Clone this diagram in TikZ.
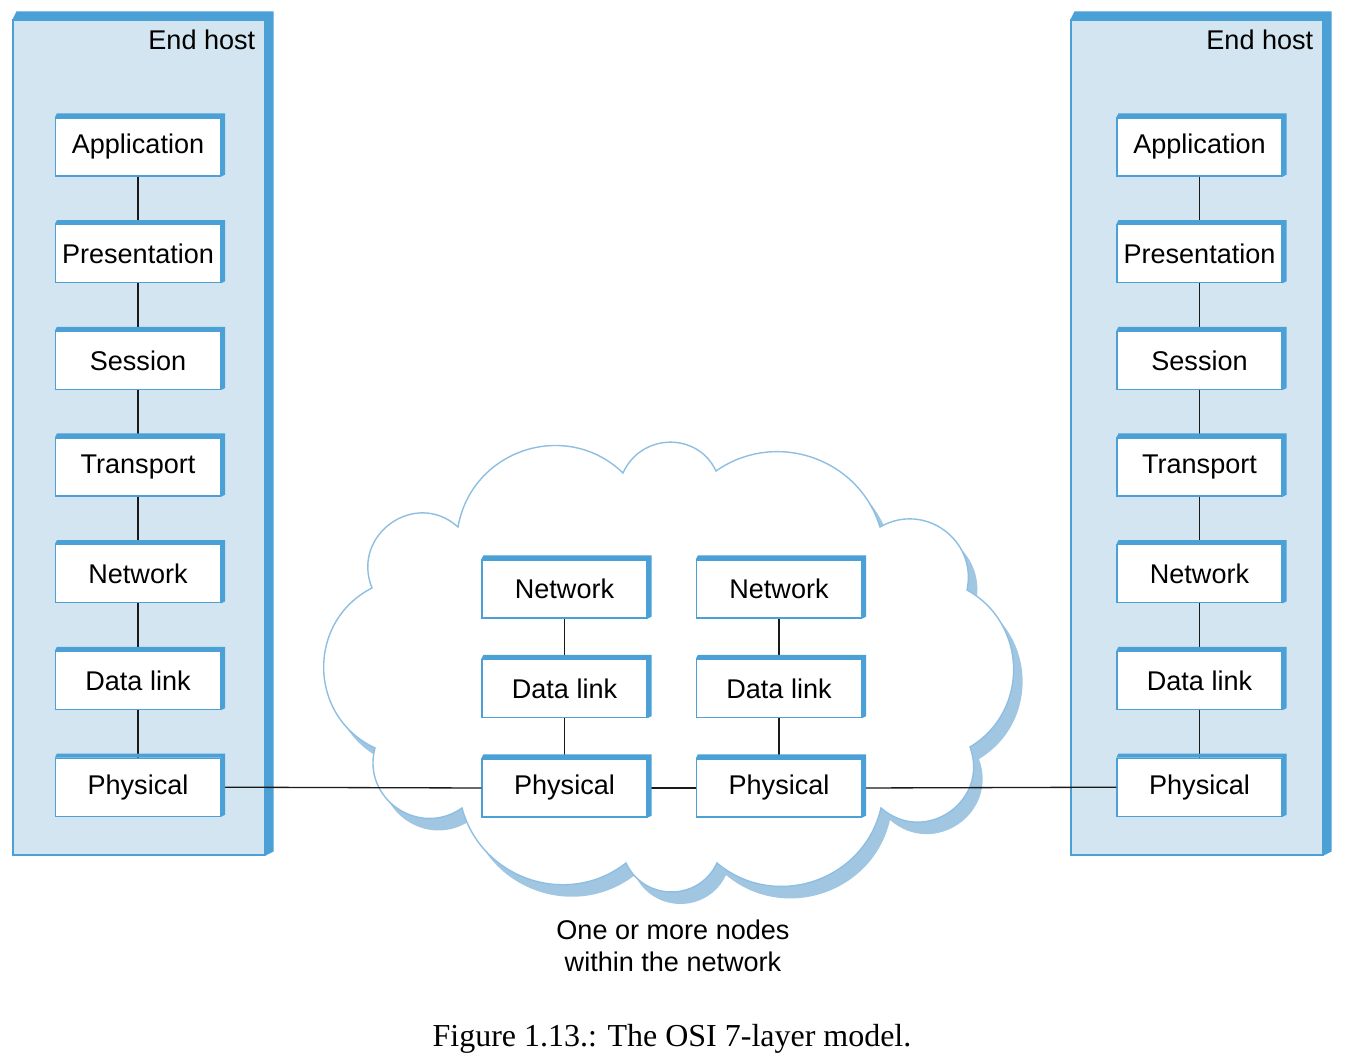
\documentclass[tikz,border=0pt]{standalone}
\usepackage{fontspec}
\setmainfont{Liberation Sans}
\newfontfamily\capfont{Liberation Serif}
\definecolor{edgeblue}{RGB}{75,160,214}
\definecolor{hostblue}{RGB}{211,229,240}
\definecolor{cloudline}{RGB}{142,191,227}
\definecolor{cloudshade}{RGB}{160,198,226}
\definecolor{linkgray}{RGB}{25,25,25}
% thick top and right edge of a box
\newcommand{\boxedge}[2]{\fill[edgeblue] (#1.north west) -- ([shift={(#2*0.5,#2)}]#1.north west) -- ([shift={(#2,#2)}]#1.north east) -- ([shift={(#2,#2*0.5)}]#1.south east) -- (#1.south east) -- (#1.north east) -- cycle;}
% outline of the network cloud
\newcommand{\cloudshape}[1]{\path[#1] (372,-588) to[out=112,in=138,looseness=1.39] (458,-527)
  to[out=80,in=136,looseness=1.16] (623,-473)
  to[out=66,in=115,looseness=1.2] (716,-471)
  to[out=35,in=107,looseness=1.07] (880,-527)
  to[out=30,in=78,looseness=1.22] (967,-590)
  to[out=-29,in=31,looseness=1.13] (970,-747)
  to[out=-70,in=-41,looseness=1.37] (881,-808)
  to[out=-103,in=-40,looseness=1.11] (717,-863)
  to[out=-115,in=-65,looseness=1.2] (626,-863)
  to[out=-142,in=-75,looseness=1.09] (462,-808)
  to[out=-145,in=-105,looseness=1.27] (375,-748)
  to[out=155,in=-153,looseness=1.18] (372,-588) -- cycle;}
\begin{document}
\begin{tikzpicture}[x=0.02cm,y=0.02cm,
    txt/.style={font=\fontsize{15.4}{18.2}\selectfont},
    hostbox/.style={draw=edgeblue,line width=0.7pt,fill=hostblue,minimum width=5.04cm,minimum height=16.7cm,inner sep=0pt},
    layer/.style={txt,draw=edgeblue,line width=0.7pt,fill=white,minimum width=3.3cm,minimum height=1.16cm,inner sep=0pt},
    link/.style={draw=linkgray,line width=0.75pt}]
\useasboundingbox (0,0) rectangle (1346,-1060);
% end hosts
\node[hostbox] (lhost) at (139,-437.5) {};
\node[hostbox] (rhost) at (1197,-437.5) {};
\boxedge{lhost}{8}
\boxedge{rhost}{8}
\node[txt,anchor=north east,inner sep=0pt] (lname) at ([shift={(-10,-10)}]lhost.north east) {End host};
\node[txt,anchor=north east,inner sep=0pt] (rname) at ([shift={(-10,-10)}]rhost.north east) {End host};
% cloud
\cloudshape{fill=cloudshade,shift={(9,-12)}}
\cloudshape{fill=white,draw=cloudline,line width=0.8pt}
% layers of the end hosts
\foreach \n [count=\i] in {Application,Presentation,Session,Transport,Network,Data link,Physical}{
  \node[layer] (l\i) at (138,{-147-(\i-1)*106.7}) {\n};
  \node[layer] (r\i) at (1199.5,{-147-(\i-1)*106.7}) {\n};
}
% layers of the nodes in the network
\foreach \n [count=\i] in {Network,Data link,Physical}{
  \node[layer] (a\i) at (564.5,{-589-(\i-1)*99.5}) {\n};
  \node[layer] (b\i) at (779,{-589-(\i-1)*99.5}) {\n};
}
% connectors
\foreach \i [evaluate=\i as \j using int(\i+1)] in {1,...,6}{
  \draw[link] (l\i) -- (l\j);
  \draw[link] (r\i) -- (r\j);
}
\foreach \i [evaluate=\i as \j using int(\i+1)] in {1,2}{
  \draw[link] (a\i) -- (a\j);
  \draw[link] (b\i) -- (b\j);
}
\draw[link] (l7.east) -- (a3.west);
\draw[link] (a3.east) -- (b3.west);
\draw[link] (b3.east) -- (r7.west);
% box edges
\foreach \i in {1,...,7}{
  \boxedge{l\i}{4}
  \boxedge{r\i}{4}
}
\foreach \i in {1,2,3}{
  \boxedge{a\i}{4}
  \boxedge{b\i}{4}
}
% labels
\node[txt,align=center] (cloudtext) at (673,-946) {One or more nodes\\within the network};
\node[font=\capfont\fontsize{18.2}{22}\selectfont] (caption) at (672,-1039) {Figure 1.13.: The OSI 7-layer model.};
\end{tikzpicture}
\end{document}
